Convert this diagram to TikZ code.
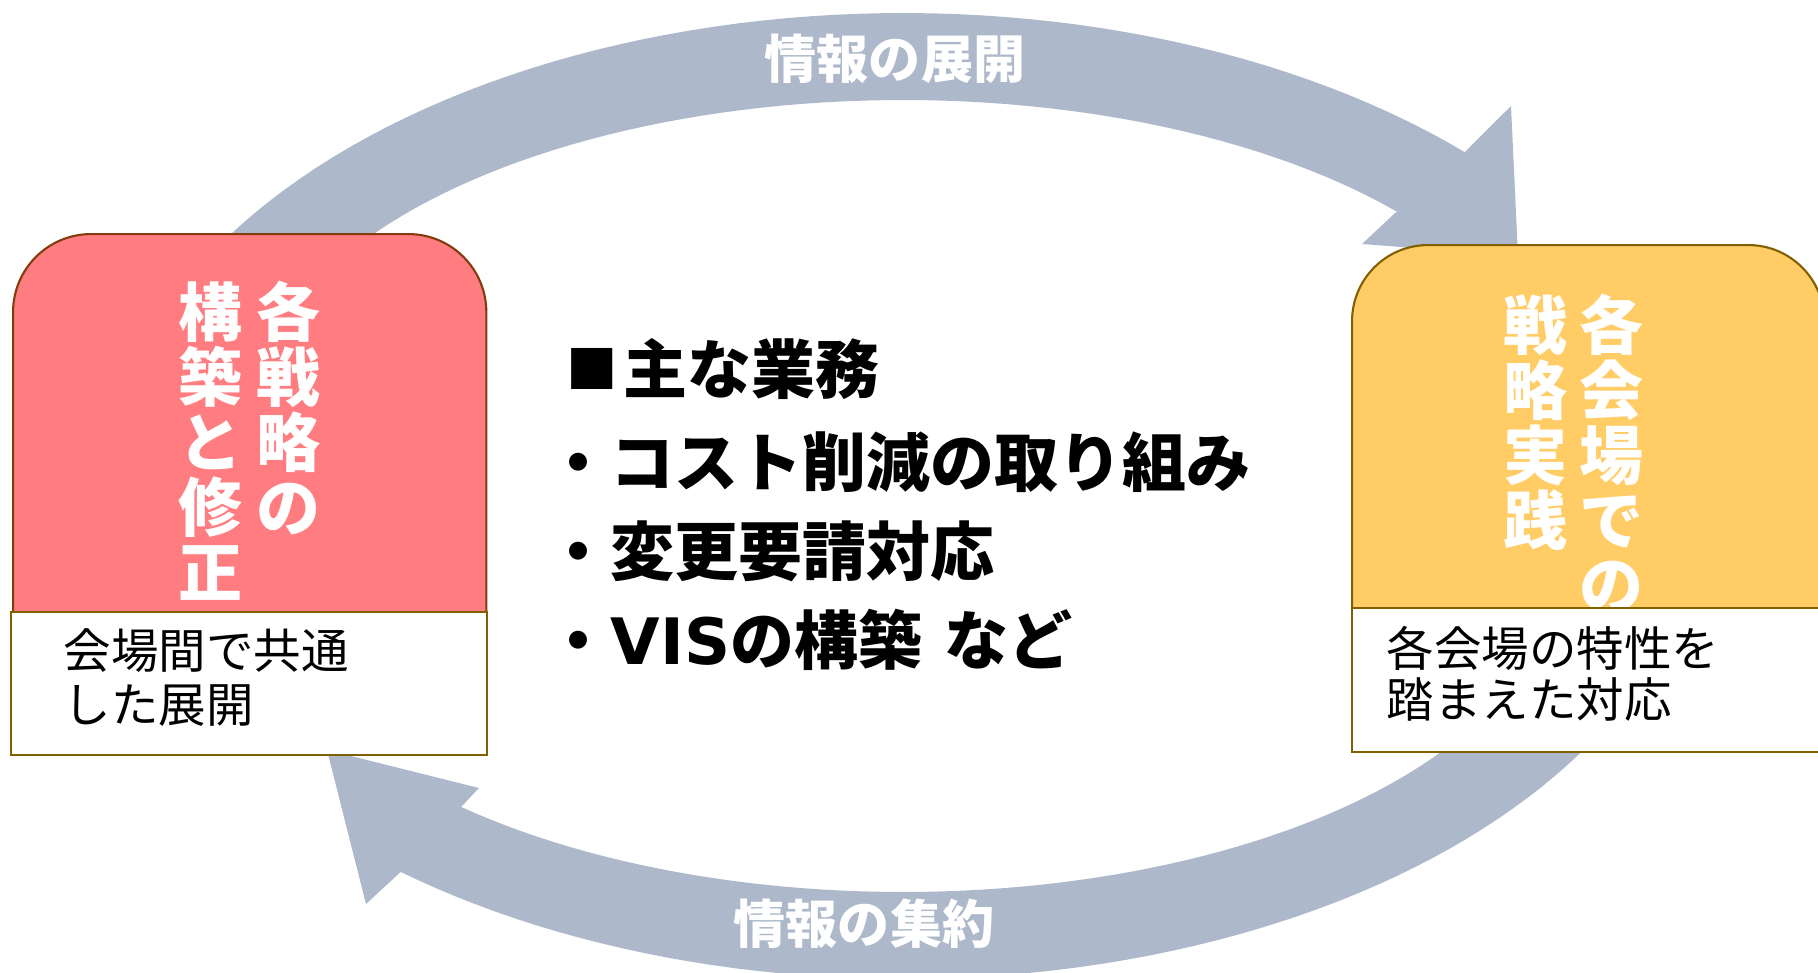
\documentclass[tikz,border=0pt]{standalone}
\usepackage{fontspec}
\setmainfont{Noto Sans CJK JP}
\newfontfamily\latinfont{DejaVu Sans}
\usepackage{xcolor}
\usepackage{tikz}

\definecolor{arrowgray}{HTML}{ADB9CA}
\definecolor{redfill}{HTML}{FF7C80}
\definecolor{redline}{HTML}{843C0C}
\definecolor{yellowfill}{HTML}{FFCC66}
\definecolor{goldline}{HTML}{806000}

\tikzset{
  flow/.style={fill=arrowgray},
  redbox/.style={draw=redline, fill=redfill, line width=0.6pt, rounded corners=0.78cm},
  yellowbox/.style={draw=goldline, fill=yellowfill, line width=0.6pt, rounded corners=0.76cm},
  notebox/.style={draw=goldline, fill=white, line width=0.6pt},
  vtext/.style={text=white, font=\bfseries\fontsize{18.2pt}{18.2pt}\selectfont, inner sep=0pt, anchor=base},
  flowlabel/.style={text=white, font=\bfseries\fontsize{14.8pt}{14.8pt}\selectfont, inner sep=0pt, anchor=base},
  tasktext/.style={font=\bfseries\fontsize{18.2pt}{18.2pt}\selectfont, inner sep=0pt, anchor=base west},
  notetext/.style={font=\fontsize{13.5pt}{13.5pt}\selectfont, inner sep=0pt, anchor=base west}
}

\begin{document}
\begin{tikzpicture}[x=0.01cm,y=-0.01cm]
\useasboundingbox (0,0) rectangle (1818,972);

% Arrows
\fill[flow] plot[domain=210.6:314.6, samples=60] ({903+800*cos(\x)},{496+483*sin(\x)})
  -- (1511,106) -- (1518,256) -- (1362,244) -- (1395,213)
  -- plot[domain=319.5:212, samples=60] ({903+650*cos(\x)},{419+319*sin(\x)}) -- cycle;
\fill[flow] plot[domain=30.3:128.9, samples=60] ({903+800*cos(\x)},{496+483*sin(\x)})
  -- (366,904) -- (327,750) -- (479,788) -- (461,807)
  -- plot[domain=132.8:31.6, samples=60] ({903+650*cos(\x)},{573+319*sin(\x)}) -- cycle;
\node[flowlabel] (spread) at (895,78) {情報の展開};
\node[flowlabel] (gather) at (864,943) {情報の集約};

% Boxes
\node[redbox, anchor=north west, minimum width=4.73cm, minimum height=4.8cm] (strategy) at (12,233) {};
\node[yellowbox, anchor=north west, minimum width=4.72cm, minimum height=4.8cm] (venue) at (1351,244) {};

% Vertical titles
\foreach \ch [count=\i] in {各,戦,略,の}
  \node[vtext] (redR\i) at ({288},{271+65*\i}) {\ch};
\foreach \ch [count=\i] in {構,築,と,修,正}
  \node[vtext] (redL\i) at ({210},{271+65*\i}) {\ch};
\foreach \ch [count=\i] in {各,会,場,で,の}
  \node[vtext] (yelR\i) at ({1611},{284+65*\i}) {\ch};
\foreach \ch [count=\i] in {戦,略,実,践}
  \node[vtext] (yelL\i) at ({1535},{284+65*\i}) {\ch};

% Notes
\node[notebox, anchor=north west, minimum width=4.76cm, minimum height=1.43cm] (sharednote) at (10,611) {};
\node[notebox, anchor=north west, minimum width=4.72cm, minimum height=1.44cm] (venuenote) at (1351,607) {};
\node[notetext] (redn1) at (63,668) {会場間で共通};
\node[notetext] (redn2) at (63,722) {した展開};
\node[notetext] (yeln1) at (1386,666) {各会場の特性を};
\node[notetext] (yeln2) at (1386,717) {踏まえた対応};

% Tasks
\node[tasktext] (tasks) at (558,393)
  {\hspace*{0.08cm}\raisebox{1.2pt}{\fontsize{14.6pt}{14.6pt}\selectfont ■}\hspace{0.05cm}主な業務};
\foreach \t [count=\i] in {・コスト削減の取り組み,・変更要請対応,・{\latinfont VIS}の構築\hspace{0.22cm}など}
  \node[tasktext] (task\i) at ({546},{397+89*\i}) {\t};
\end{tikzpicture}
\end{document}
